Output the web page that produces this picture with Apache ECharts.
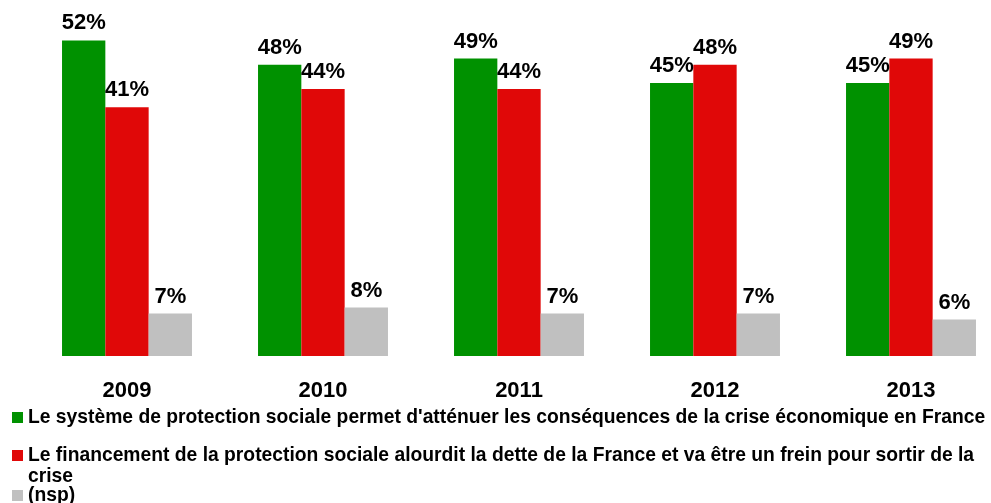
<!DOCTYPE html>
<html lang="fr">
<head>
    <meta charset="utf-8">
    <title>Protection sociale</title>
    <script src="https://cdn.jsdelivr.net/npm/echarts@6/dist/echarts.min.js"></script>
    <style>
        html, body { margin: 0; padding: 0; background: #fff; }
        #chart { width: 991px; height: 503px; }
    </style>
</head>
<body>
    <div id="chart"></div>
    <script type="text/javascript">
        var years = ['2009', '2010', '2011', '2012', '2013'];
        var seriesNames = [
            "Le système de protection sociale permet d'atténuer les conséquences de la crise économique en France",
            "Le financement de la protection sociale alourdit la dette de la France et va être un frein pour sortir de la crise",
            "(nsp)"
        ];
        var attenuer = [52, 48, 49, 45, 45];
        var alourdit = [41, 44, 44, 48, 49];
        var nsp = [7, 8, 7, 7, 6];
        var colors = ['#009100', '#E00808', '#C0C0C0'];

        var font = '"Liberation Sans", Arial, sans-serif';
        var myChart = echarts.init(document.getElementById('chart'));

        function legendFor(i, top, lineHeight, formatter) {
            var l = {
                data: [seriesNames[i]],
                left: 12,
                top: top,
                padding: 0,
                icon: 'rect',
                itemWidth: 11,
                itemHeight: 11,
                selectedMode: false,
                textStyle: {
                    fontFamily: font,
                    fontWeight: 'bold',
                    fontSize: 19.3,
                    lineHeight: lineHeight,
                    color: '#000'
                }
            };
            if (formatter) l.formatter = formatter;
            return l;
        }

        function bar(i, data) {
            return {
                name: seriesNames[i],
                type: 'bar',
                data: data,
                barGap: 0,
                barCategoryGap: '33.7%',
                itemStyle: { color: colors[i] },
                label: {
                    show: true,
                    position: 'top',
                    distance: 6,
                    formatter: '{c}%',
                    fontFamily: font,
                    fontWeight: 'bold',
                    fontSize: 22,
                    color: '#000'
                }
            };
        }

        option = {
            backgroundColor: '#fff',
            animation: false,
            grid: {
                left: 29,
                width: 980,
                top: 4,
                height: 352,
                outerBoundsMode: 'none'
            },
            legend: [
                legendFor(0, 408, 19),
                // empty first line keeps the icon level with the first text line
                legendFor(1, 424, 21, function (name) {
                    return '\n' + name.replace(/ de la crise$/, ' de la\ncrise');
                }),
                legendFor(2, 486, 19)
            ],
            xAxis: {
                type: 'category',
                data: years,
                axisLine: { show: false },
                axisTick: { show: false },
                axisLabel: {
                    margin: 24,
                    fontFamily: font,
                    fontWeight: 'bold',
                    fontSize: 22,
                    color: '#000'
                }
            },
            yAxis: {
                type: 'value',
                min: 0,
                max: 58,
                show: false,
                splitLine: { show: false }
            },
            series: [
                bar(0, attenuer),
                bar(1, alourdit),
                bar(2, nsp)
            ]
        };

        myChart.setOption(option);
    </script>
</body>
</html>
